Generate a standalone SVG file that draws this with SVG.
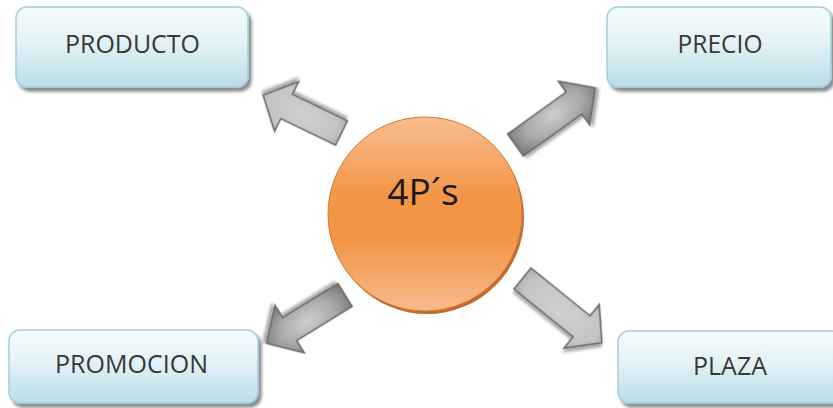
<svg xmlns="http://www.w3.org/2000/svg" width="833" height="408" viewBox="0 0 833 408">
  <defs>
    <linearGradient id="boxFill" x1="0" y1="0" x2="0" y2="1">
      <stop offset="0" stop-color="#f7fcfd"/>
      <stop offset="0.45" stop-color="#e3f2f6"/>
      <stop offset="1" stop-color="#b9dde7"/>
    </linearGradient>
    <linearGradient id="circFill" x1="0" y1="0" x2="0" y2="1">
      <stop offset="0" stop-color="#f8bd90"/>
      <stop offset="0.4" stop-color="#f39647"/>
      <stop offset="0.62" stop-color="#f39446"/>
      <stop offset="1" stop-color="#f7ba8c"/>
    </linearGradient>
    <radialGradient id="arrDark" cx="0.5" cy="0.45" r="0.6">
      <stop offset="0" stop-color="#cfcfcf"/>
      <stop offset="0.55" stop-color="#a8a8a8"/>
      <stop offset="1" stop-color="#707070"/>
    </radialGradient>
    <radialGradient id="arrLight" cx="0.5" cy="0.5" r="0.6">
      <stop offset="0" stop-color="#d0d0d0"/>
      <stop offset="0.7" stop-color="#c4c4c4"/>
      <stop offset="1" stop-color="#a4a4a4"/>
    </radialGradient>
    <filter id="shadow" x="-20%" y="-20%" width="140%" height="150%">
      <feGaussianBlur in="SourceAlpha" stdDeviation="1.8"/>
      <feOffset dx="3" dy="4" result="b"/>
      <feComponentTransfer><feFuncA type="linear" slope="0.45"/></feComponentTransfer>
      <feMerge><feMergeNode/><feMergeNode in="SourceGraphic"/></feMerge>
    </filter>
    <filter id="ashadow" x="-30%" y="-30%" width="160%" height="160%">
      <feGaussianBlur in="SourceAlpha" stdDeviation="1.5"/>
      <feOffset dx="2" dy="3" result="b"/>
      <feComponentTransfer><feFuncA type="linear" slope="0.35"/></feComponentTransfer>
      <feMerge><feMergeNode/><feMergeNode in="SourceGraphic"/></feMerge>
    </filter>
    <style>
      .box { fill: url(#boxFill); stroke: #a3d0dc; stroke-width: 1.5; filter: url(#shadow); }
      .lbl { font-family: "Open Sans", "Noto Sans", "Liberation Sans", sans-serif; font-size: 25px; fill: #383838; text-anchor: middle; }
      .arrow { stroke: #666666; stroke-width: 1.5; stroke-linejoin: miter; filter: url(#ashadow); }
    </style>
  </defs>

  <rect width="833" height="408" fill="#ffffff"/>

  <g id="connectors">
    <path class="arrow" fill="url(#arrLight)" transform="translate(341.5,133) rotate(205.8)" d="M0,-13.5 L61,-13.5 L61,-27.5 L87,0 L61,27.5 L61,13.5 L0,13.5 Z"/>
    <path class="arrow" fill="url(#arrDark)" transform="translate(515.5,145) rotate(-35.6)" d="M0,-13.5 L72,-13.5 L72,-27 L98,0 L72,27 L72,13.5 L0,13.5 Z"/>
    <path class="arrow" fill="url(#arrDark)" transform="translate(345,295) rotate(148.4)" d="M0,-13.5 L65,-13.5 L65,-28 L92,0 L65,28 L65,13.5 L0,13.5 Z"/>
    <path class="arrow" fill="url(#arrLight)" transform="translate(522.5,278.5) rotate(39)" d="M0,-13.5 L76,-13.5 L76,-28 L102,0 L76,28 L76,13.5 L0,13.5 Z"/>
  </g>

  <g id="center">
    <circle cx="427" cy="217" r="97" fill="#b95c1a" opacity="0.9"/>
    <circle cx="425" cy="214" r="97" fill="url(#circFill)" stroke="#d9782f" stroke-width="1"/>
    <text x="423" y="205" font-family="'Open Sans', 'Noto Sans', 'Liberation Sans', sans-serif" font-size="37" fill="#1a1a1a" text-anchor="middle">4P´s</text>
  </g>

  <g id="producto">
    <rect class="box" x="16" y="7" width="232" height="80" rx="11"/>
    <text class="lbl" x="132.5" y="53" textLength="135" lengthAdjust="spacingAndGlyphs">PRODUCTO</text>
  </g>

  <g id="precio">
    <rect class="box" x="607" y="7" width="224" height="80" rx="11"/>
    <text class="lbl" x="720" y="53" textLength="85" lengthAdjust="spacingAndGlyphs">PRECIO</text>
  </g>

  <g id="promocion">
    <rect class="box" x="9" y="330" width="249" height="73" rx="11"/>
    <text class="lbl" x="131.5" y="373" textLength="153" lengthAdjust="spacingAndGlyphs">PROMOCION</text>
  </g>

  <g id="plaza">
    <rect class="box" x="618" y="331" width="225" height="72" rx="11"/>
    <text class="lbl" x="730" y="375" textLength="74" lengthAdjust="spacingAndGlyphs">PLAZA</text>
  </g>
</svg>
